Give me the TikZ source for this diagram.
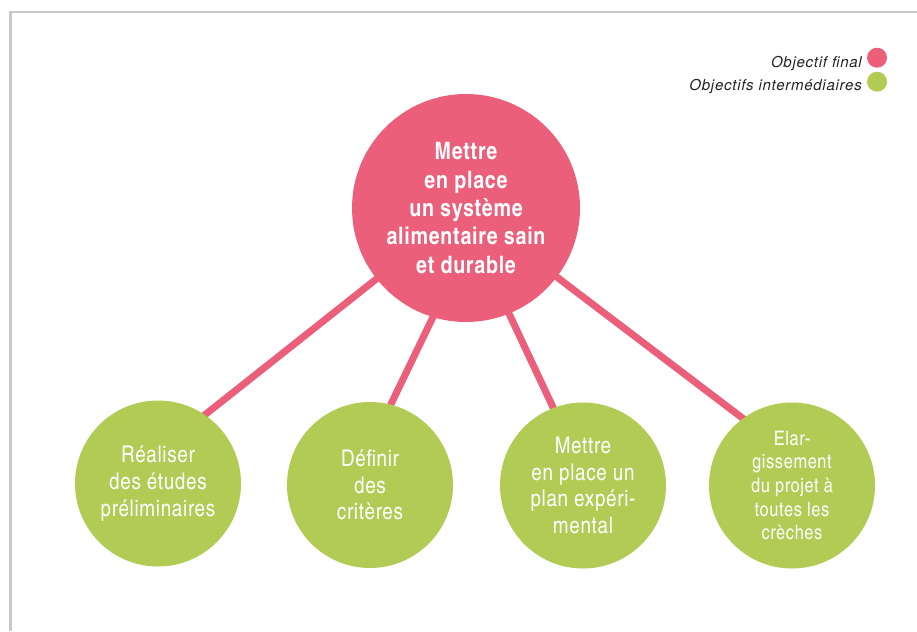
\documentclass[tikz,border=0pt]{standalone}
\usepackage{fontspec}
\setmainfont{TeX Gyre Heros}
\newfontfamily\cnfont{texgyreheroscn}[Extension=.otf, UprightFont=*-regular, BoldFont=*-bold, ItalicFont=*-italic, LetterSpace=3]
\newfontfamily\legfont{TeX Gyre Heros}[LetterSpace=5]
\definecolor{pinkc}{HTML}{EC5F7A}
\definecolor{greenc}{HTML}{B1CB55}
\definecolor{framec}{HTML}{C8C8C8}
\definecolor{legtext}{HTML}{222222}
\tikzset{
  mainnode/.style={circle, fill=pinkc, minimum size=228pt, inner sep=0pt, text=white, align=center,
    font=\cnfont\bfseries\fontsize{24}{28.3}\selectfont},
  subnode/.style={circle, fill=greenc, minimum size=166pt, inner sep=0pt, text=white, align=center,
    font=\cnfont\fontsize{23}{26.7}\selectfont},
  smallsub/.style={subnode, font=\cnfont\fontsize{20}{23.7}\selectfont},
  link/.style={draw=pinkc, line width=7pt},
  legdot/.style={circle, minimum size=20pt, inner sep=0pt},
  legtxt/.style={anchor=base east, inner sep=0pt, text=legtext, font=\legfont\itshape\fontsize{15}{17}\selectfont},
  frame/.style={draw=framec, line width=2.5pt}
}
\begin{document}
\begin{tikzpicture}[x=1pt, y=-1pt]
\useasboundingbox (0,0) rectangle (917,631);
% frame
\coordinate (fr1) at (917,12);
\coordinate (fr2) at (10.5,12);
\coordinate (fr3) at (10.5,631);
\draw[frame] (fr1) -- (fr2) -- (fr3);
% link endpoints
\coordinate (m0) at (466,208);
\coordinate (s2) at (446,290);
\coordinate (s3) at (497,288);
\coordinate (e1) at (175,438.5);
\coordinate (e2) at (379,429);
\coordinate (e3) at (566,435);
\coordinate (e4) at (766,436);
\draw[link] (m0) -- (e1);
\draw[link] (s2) -- (e2);
\draw[link] (s3) -- (e3);
\draw[link] (m0) -- (e4);
% main
\node[mainnode] (main) at (466,208) {Mettre\\en place\\un système\\alimentaire sain\\et durable};
% subs
\node[subnode] (g1) at (158,483.5) {Réaliser\\des études\\préliminaires};
\node[subnode] (g2) at (370,485) {Définir\\des\\critères};
\node[subnode] (g3) at (583,485.5) {Mettre\\en place un\\plan expéri-\\mental};
\node[smallsub] (g4) at (792,485.5) {Elar-\\gissement\\du projet à\\toutes les\\crèches};
% legend
\node[legdot, fill=pinkc] (d1) at (877,57.7) {};
\node[legdot, fill=greenc] (d2) at (877,81.7) {};
\node[legtxt] (l1) at (862,67.7) {Objectif final};
\node[legtxt] (l2) at (862,91) {Objectifs intermédiaires};
\end{tikzpicture}
\end{document}
